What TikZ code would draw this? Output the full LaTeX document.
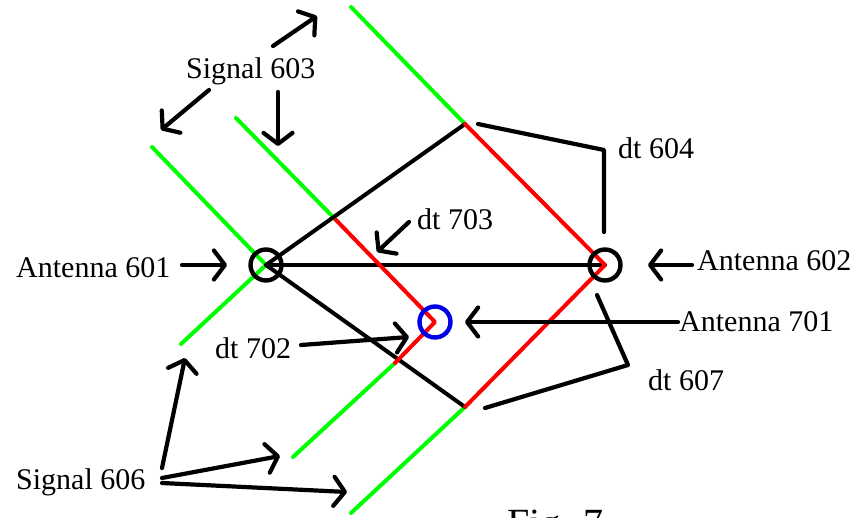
\documentclass[tikz,border=0pt]{standalone}
\usepackage{fontspec}
\setmainfont{Liberation Serif}
\usetikzlibrary{arrows.meta}
\definecolor{pgreen}{RGB}{0,255,0}
\definecolor{pred}{RGB}{255,0,0}
\definecolor{pblue}{RGB}{0,0,230}
\tikzset{
  wave/.style={line width=4pt,pgreen,line cap=round},
  delay/.style={line width=4pt,pred,line cap=round},
  base/.style={line width=4pt,black,line cap=round},
  callout/.style={line width=4.2pt,black,line cap=round,line join=round},
  pointer/.style={callout,-{Straight Barb[length=11pt,width=29pt,line width=4.2pt,round]}},
  antenna/.style={circle,draw=black,line width=4.4pt,minimum size=31pt,inner sep=0pt},
  label/.style={font=\fontsize{30}{33}\selectfont,inner sep=0pt,anchor=base west,text=black},
}
\begin{document}
\begin{tikzpicture}[x=1pt,y=-1pt]
\useasboundingbox (0,0) rectangle (858,518);
\clip (0,0) rectangle (858,518);
% wavefront points
\coordinate (a1) at (266,265);
\coordinate (a2) at (605,265);
\coordinate (a7) at (435,322);
\coordinate (t1) at (465,124);
\coordinate (t2) at (465,407);
\coordinate (m1) at (336,220);
\coordinate (m2) at (395,363);
% wavefronts
\draw[wave] (152,147) -- (a1) -- (181,344);
\draw[wave] (236,118) -- (m1);
\draw[wave] (m2) -- (293,457);
\draw[wave] (351,7) -- (t1);
\draw[wave] (t2) -- (351,513);
% baselines
\draw[base] (a1) -- (t1);
\draw[base] (a1) -- (a2);
\draw[base] (a1) -- (t2);
% delays
\draw[delay,line join=round] (m1) -- (a7) -- (m2);
\draw[delay,line join=round] (t1) -- (a2) -- (t2);
% antennas
\node[antenna] (n601) at (a1) {};
\node[antenna] (n602) at (a2) {};
\node[antenna,draw=pblue] (n701) at (a7) {};
% labels
\node[label] (l603) at (186,79) {Signal 603};
\node[label] (l604) at (618,159) {dt 604};
\node[label] (l703) at (417,230) {dt 703};
\node[label] (l601) at (16,277) {Antenna 601};
\node[label] (l602) at (697,271) {Antenna 602};
\node[label] (l701) at (679,331) {Antenna 701};
\node[label] (l702) at (215,358) {dt 702};
\node[label] (l607) at (648,390) {dt 607};
\node[label] (l606) at (16,489) {Signal 606};
\node[font=\fontsize{40}{44}\selectfont,inner sep=0pt,anchor=base west] (fig) at (507,536) {Fig. 7};
% pointers
\coordinate (p1s) at (182,265); \coordinate (p1e) at (227,265);
\draw[pointer] (p1s) -- (p1e);
\coordinate (p2s) at (692,265); \coordinate (p2e) at (648,265);
\draw[pointer] (p2s) -- (p2e);
\coordinate (p7s) at (678,322); \coordinate (p7e) at (465,322);
\draw[pointer] (p7s) -- (p7e);
\coordinate (d3s) at (409,222); \coordinate (d3e) at (377,252);
\draw[pointer] (d3s) -- (d3e);
\coordinate (d2s) at (301,345); \coordinate (d2e) at (409,337);
\draw[pointer] (d2s) -- (d2e);
\coordinate (s1s) at (273,46); \coordinate (s1e) at (317,16);
\draw[pointer] (s1s) -- (s1e);
\coordinate (s2s) at (209,90); \coordinate (s2e) at (161,130);
\draw[pointer] (s2s) -- (s2e);
\coordinate (s3s) at (278,92); \coordinate (s3e) at (278,146);
\draw[pointer] (s3s) -- (s3e);
\coordinate (s6a) at (162,468); \coordinate (s6ae) at (185,358);
\draw[pointer] (s6a) -- (s6ae);
\coordinate (s6b) at (162,478); \coordinate (s6be) at (280,456);
\draw[pointer] (s6b) -- (s6be);
\coordinate (s6c) at (162,483); \coordinate (s6ce) at (347,492);
\draw[pointer] (s6c) -- (s6ce);
% dt callouts
\coordinate (c4a) at (478,124); \coordinate (c4b) at (604,150); \coordinate (c4c) at (604,232);
\draw[callout] (c4a) -- (c4b) -- (c4c);
\coordinate (c7a) at (597,295); \coordinate (c7b) at (628,365); \coordinate (c7c) at (485,408);
\draw[callout] (c7a) -- (c7b) -- (c7c);
\end{tikzpicture}
\end{document}
